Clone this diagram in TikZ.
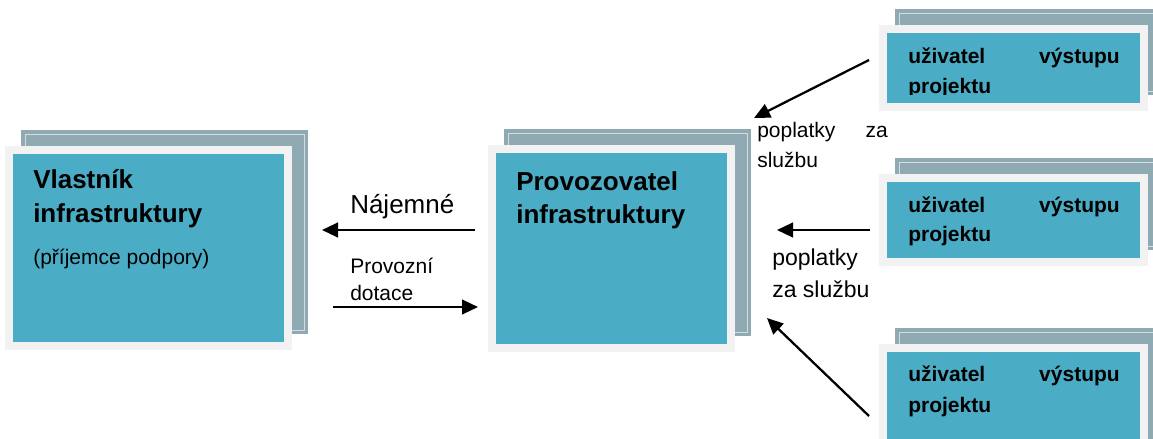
\documentclass[tikz,border=0pt]{standalone}
\usepackage{fontspec}
\setmainfont{Liberation Sans}
\usetikzlibrary{calc}
\usetikzlibrary{arrows.meta}
\usetikzlibrary{backgrounds}
\definecolor{boxblue}{HTML}{4BACC6}
\definecolor{backgray}{HTML}{8FAAB2}
\definecolor{framegray}{HTML}{F2F2F2}
\tikzset{
 panel/.style={fill=boxblue, anchor=north west, inner sep=0, outer sep=0},
 headtxt/.style={anchor=base west, inner sep=0, font=\fontsize{19.5}{23}\selectfont\bfseries},
 subtxt/.style={anchor=base west, inner sep=0, font=\fontsize{15.75}{19}\selectfont},
 usertxt/.style={anchor=base west, inner sep=0, font=\fontsize{15.75}{19}\selectfont\bfseries},
 flow/.style={black, line width=1.7pt, -{Triangle[length=12pt,width=11pt]}},
}
\begin{document}
\begin{tikzpicture}[x=0.75pt, y=-0.75pt]
\useasboundingbox (0,0) rectangle (1153,439);
\clip (0,0) rectangle (1153,439);
\node[panel, minimum width=203.25pt, minimum height=141pt] (owner) at (13,154) {};
\node[panel, minimum width=173.25pt, minimum height=143.25pt] (operator) at (496,153) {};
\foreach \n/\y/\h in {1/33/52.5pt, 2/182/57pt, 3/352/75pt}
 \node[panel, minimum width=189.75pt, minimum height=\h] (user\n) at (887,\y) {};
\begin{pgfonlayer}{background}
\foreach \b in {owner,operator,user1,user2,user3} {
 \fill[backgray] ($(\b.north west)+(8,-24)$) rectangle ($(\b.south east)+(24,-8)$);
 \draw[backgray!40!white, line width=0.75pt] ($(\b.north west)+(12,-20)$) rectangle ($(\b.south east)+(20,-12)$);
 \fill[framegray] ($(\b.north west)+(-8,-8)$) rectangle ($(\b.south east)+(8,8)$);
}
\end{pgfonlayer}
\node[headtxt] (ownerA) at (33,188) {Vlastník};
\node[headtxt] (ownerB) at (33,222) {infrastruktury};
\node[subtxt] (ownerC) at (33,264) {(příjemce podpory)};
\node[headtxt] (operatorA) at (516,190) {Provozovatel};
\node[headtxt] (operatorB) at (516,223) {infrastruktury};
\foreach \n/\y in {1/63,2/212,3/381} {
 \node[usertxt] (userA\n) at (908,\y) {uživatel};
 \node[usertxt, anchor=base east] (userB\n) at (1120,\y) {výstupu};
}
\begin{scope}
\clip (887,33) rectangle (1140,94);
\node[usertxt] (userC1) at (908,93) {projektu};
\end{scope}
\node[usertxt] (userC2) at (908,241) {projektu};
\node[usertxt] (userC3) at (908,412) {projektu};
\node[anchor=base west, inner sep=0, font=\fontsize{19.5}{23}\selectfont] (rentLbl) at (350,213) {Nájemné};
\node[subtxt] (subsidyA) at (350,273) {Provozní};
\node[subtxt] (subsidyB) at (350,300) {dotace};
\node[subtxt] (feeA) at (757,137) {poplatky};
\node[subtxt, anchor=base east] (feeB) at (888,137) {za};
\node[subtxt] (feeC) at (757,167) {službu};
\node[anchor=base west, inner sep=0, font=\fontsize{17.25}{21}\selectfont] (feeD) at (772,265) {poplatky};
\node[anchor=base west, inner sep=0, font=\fontsize{17.25}{21}\selectfont] (feeE) at (772,297) {za službu};
\coordinate (rentS) at (475,230);
\coordinate (rentE) at (322,230);
\coordinate (subS) at (333,307);
\coordinate (subE) at (478,307);
\coordinate (fee1S) at (869,60);
\coordinate (fee1E) at (754,118);
\coordinate (fee2S) at (870,230);
\coordinate (fee2E) at (777,230);
\coordinate (fee3S) at (869,416);
\coordinate (fee3E) at (767,318);
\draw[flow] (rentS) -- (rentE);
\draw[flow] (subS) -- (subE);
\foreach \k in {1,2,3}
 \draw[flow] (fee\k S) -- (fee\k E);
\end{tikzpicture}
\end{document}
